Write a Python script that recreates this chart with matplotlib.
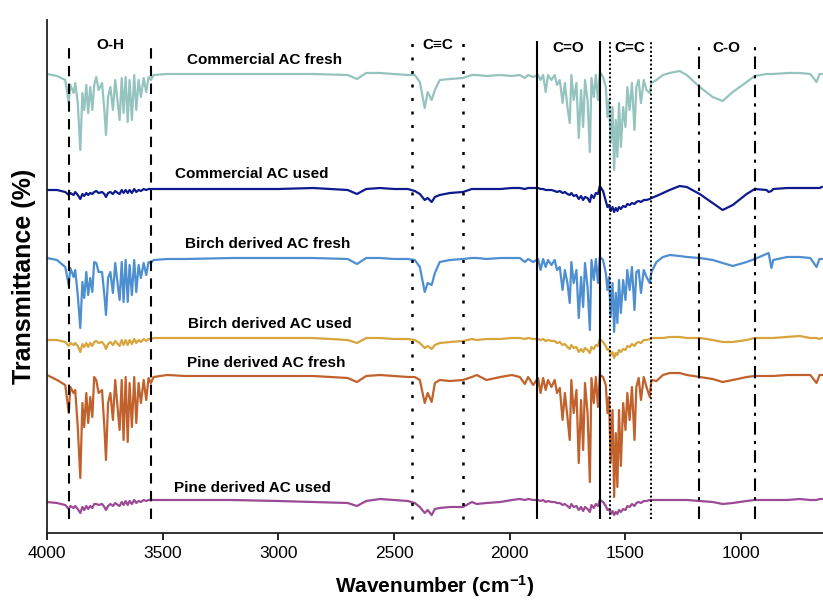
import numpy as np
import matplotlib
matplotlib.use("Agg")
import matplotlib.pyplot as plt

plt.rcParams['font.family'] = ['Liberation Sans', 'DejaVu Sans']
plt.rcParams['mathtext.fontset'] = 'custom'
plt.rcParams['mathtext.bf'] = 'Liberation Sans:bold'
plt.rcParams['mathtext.rm'] = 'Liberation Sans'

# shared wavenumber grid (cm-1), dense where the spectra are spiky
wavenumber = [
    4000, 3957, 3921, 3906, 3899, 3885, 3878, 3867, 3856, 3847,
    3839, 3830, 3822, 3813, 3804, 3796, 3787, 3777, 3762, 3752,
    3745, 3736, 3726, 3715, 3705, 3694, 3686, 3677, 3669, 3660,
    3651, 3643, 3633, 3623, 3614, 3604, 3594, 3582, 3571, 3561,
    3551, 3539, 3481,
    3400, 3200, 3000, 2850, 2700, 2660, 2620, 2560, 2500, 2440,
    2410, 2388, 2367, 2354, 2337, 2323, 2302, 2258, 2202, 2163, 2142, 2100, 2040, 1990,
    1956, 1934, 1920, 1898, 1877, 1866, 1855, 1844, 1834, 1819,
    1805, 1795, 1783, 1771, 1761, 1750, 1740, 1733, 1723, 1711,
    1701, 1691, 1682, 1674, 1663, 1653, 1646, 1636, 1627, 1618,
    1610, 1596, 1584, 1577, 1570, 1563, 1555, 1548, 1541, 1534,
    1527, 1519, 1509, 1499, 1491, 1481, 1471, 1460, 1452, 1442,
    1432, 1420, 1408, 1394, 1387, 1365, 1337, 1308,
    1265, 1234, 1178, 1122, 1079, 1035, 975, 940, 889, 880, 868, 860, 800, 746, 700, 673, 660, 650,
]

# drop in transmittance below each trace's own baseline (arbitrary units)
commercial_fresh = [
    0, 2, 6, 29, 11, 19, 9, 29, 76, 19,
    36, 11, 39, 13, 36, 11, 3, 16, 9, 36,
    61, 23, 13, 36, 6, 29, 46, 4, 39, 3,
    48, 6, 46, 1, 36, 6, 23, 4, 18, 3,
    6, 1, 0,
    0, 0, 0, 0, 1, 5, -1, -1, 0, 1,
    1, 8, 34, 18, 26, 16, 6, 5, 4, 1, 1, 2, 1, 2,
    1, 4, 1, 3, 1, 6, 1, 18, 1, 6,
    1, 11, 6, 29, 9, 33, 49, 1, 26, 9,
    64, 16, 53, 6, 26, 78, 4, 23, 1, 26,
    -2, 3, 13, 43, 26, 69, 33, 96, 46, 83,
    29, 73, 33, 53, 13, 36, 9, 56, 13, 6,
    29, 6, 16, 19, 9, 6, 1, -1,
    -3, 1, 13, 23, 27, 18, 8, 2, 0, 0, 0, 0, -1, -1, 0, 8, 0, 0,
]
commercial_used = [
    1, 1, 3, 6, 4, 6, 3, 6, 10, 5,
    7, 4, 6, 4, 5, 3, 2, 4, 3, 5,
    8, 4, 3, 5, 2, 4, 5, 1, 4, 1,
    4, 1, 4, 0, 3, 1, 2, 0, 1, 0,
    0, 0, 0,
    0, 0, 0, -1, 1, 5, 0, -1, 0, 0,
    2, 5, 11, 9, 13, 8, 6, 4, 3, 0, 0, 0, 0, -1,
    -1, 0, -1, -1, -1, 0, 0, 1, 1, 1,
    2, 3, 2, 4, 3, 5, 6, 4, 7, 6,
    10, 7, 11, 8, 9, 13, 6, 9, 4, 5,
    -3, 2, 12, 18, 16, 22, 18, 23, 19, 22,
    18, 20, 17, 18, 15, 16, 14, 15, 13, 12,
    13, 11, 11, 10, 9, 7, 4, 1,
    -3, -2, 5, 14, 21, 16, 5, 0, 1, 3, 2, 0, -1, -1, -1, -1, -1, -2,
]
birch_fresh = [
    -1, 1, 8, 26, 9, 18, 11, 36, 69, 23,
    39, 13, 36, 19, 33, 3, 4, 13, 13, 36,
    56, 19, 13, 34, 4, 26, 41, 3, 43, 1,
    43, 6, 36, 1, 33, 6, 19, 4, 16, 3,
    4, 1, 0,
    0, -1, -1, -1, 0, 5, -1, -1, 0, 0,
    1, 8, 33, 24, 26, 14, 3, 1, 0, -1, -1, 0, -1, -1,
    -1, 3, 0, 3, 0, 11, 0, 8, 1, 6,
    1, 11, 8, 31, 11, 24, 44, 3, 24, 11,
    59, 18, 48, 4, 28, 71, 1, 21, 0, 24,
    -2, 1, 14, 31, 18, 58, 24, 73, 34, 64,
    21, 54, 21, 41, 11, 31, 8, 51, 13, 11,
    34, 11, 18, 24, 13, 3, -2, -4,
    -3, -2, -1, 1, 4, 7, 3, 0, -5, -6, 9, 1, -2, -2, -1, 8, 0, 0,
]
birch_used = [
    0, 0, 2, 6, 3, 5, 3, 6, 12, 4,
    7, 3, 7, 3, 6, 2, 1, 3, 2, 5,
    9, 4, 2, 5, 1, 4, 6, 0, 5, 0,
    5, 0, 4, -1, 3, 0, 2, -1, 1, -1,
    -1, -2, -2,
    -2, -2, -2, -2, 0, 3, -2, -2, -1, -1,
    0, 3, 8, 6, 9, 5, 3, 2, 1, -1, 0, -1, -1, -2,
    -2, -1, -2, -1, -1, 0, -1, 1, 0, 1,
    1, 3, 2, 5, 4, 7, 9, 5, 8, 7,
    12, 9, 12, 8, 10, 13, 7, 9, 5, 6,
    -1, 2, 6, 10, 9, 15, 12, 18, 13, 15,
    10, 12, 9, 10, 6, 7, 4, 6, 3, 2,
    3, 0, 0, -1, -2, -2, -2, -3,
    -3, -2, -2, 0, 2, 2, 0, -2, -2, -2, -2, -2, -3, -4, -2, -2, -1, -2,
]
pine_fresh = [
    -1, 4, 9, 37, 11, 17, 14, 51, 102, 27,
    51, 17, 47, 21, 41, 1, 4, 17, 14, 51,
    84, 27, 17, 44, 4, 34, 54, 4, 64, 1,
    66, 7, 51, 1, 47, 7, 27, 4, 24, 2,
    7, 1, -1,
    0, 0, 0, 0, 2, 6, 0, -1, 0, 1,
    1, 4, 27, 17, 26, 7, 4, 5, 4, 1, -1, 4, 1, -1,
    1, 8, 1, 9, 2, 17, 2, 14, 4, 11,
    4, 17, 12, 44, 17, 41, 64, 4, 37, 14,
    87, 24, 74, 7, 37, 106, 2, 27, 1, 31,
    -1, 1, 9, 37, 21, 87, 34, 121, 57, 111,
    34, 90, 27, 54, 17, 44, 11, 64, 11, 2,
    24, 1, 11, 21, 4, 5, -1, -3,
    -3, -1, 1, 3, 6, 4, 1, 0, 0, 0, 0, 0, -1, -1, -1, 7, -1, -1,
]
pine_used = [
    1, 2, 4, 8, 5, 7, 5, 8, 12, 6,
    9, 5, 8, 5, 7, 3, 3, 4, 3, 6,
    9, 5, 3, 5, 2, 4, 5, 1, 4, 0,
    4, 0, 3, -1, 2, 0, 1, -1, 0, -1,
    -1, -1, -1,
    -1, -1, 0, 1, 2, 5, 0, -2, -1, 0,
    2, 6, 12, 9, 14, 8, 7, 6, 6, 1, 3, 2, 1, -1,
    -2, -1, -2, -1, -1, 0, -1, 1, 0, 1,
    1, 2, 2, 4, 3, 5, 7, 3, 6, 5,
    9, 6, 10, 6, 8, 11, 4, 7, 3, 5,
    -1, 1, 5, 9, 8, 13, 10, 14, 11, 13,
    9, 11, 8, 9, 5, 6, 3, 5, 2, 1,
    2, 0, 0, -1, -1, -1, -1, -1,
    -1, -1, 0, 1, 3, 2, 0, -1, -1, -1, -1, -1, -1, -2, -1, -1, -2, -2,
]

names = ["Commercial AC fresh", "Commercial AC used", "Birch derived AC fresh",
         "Birch derived AC used", "Pine derived AC fresh", "Pine derived AC used"]
series = [commercial_fresh, commercial_used, birch_fresh, birch_used, pine_fresh, pine_used]

# band regions (cm-1)
bands = ["O-H", "C\u2261C", "C=O", "C=C", "C-O"]
band_edges = [(3905, 3550), (2422, 2202), (1883, 1610), (1567, 1390), (1182, 940)]

# stacking and styling
offsets = [459, 344, 274, 193, 157, 32]
colors = ["#95c4bf", "#0d1b8e", "#4d8fd1", "#d8a43c", "#c1612c", "#9c4a95"]
label_pos = [(3058, 473), (3114, 359), (3045, 289), (3036, 209), (3050, 170), (3110, 45)]
band_styles = [(0, (5, 3.5)), (0, (1.2, 4.2)), "-", (0, (1, 1.2)), (0, (6, 3, 1.5, 3))]
band_lw = [1.5, 1.8, 1.5, 1.4, 1.5]
band_label_y = [488, 488, 485, 485, 485]

wn = np.array(wavenumber)
for s in series:
    assert len(s) == len(wn), len(s)

fig = plt.figure(figsize=(8.23, 6), dpi=100)
ax = fig.add_axes([47 / 823, 67 / 600, 776 / 823, 513 / 600])

for s, off, c, name, (lx, ly) in zip(series, offsets, colors, names, label_pos):
    ax.plot(wn, off - np.array(s), color=c, lw=1.6, solid_joinstyle='round')
    ax.text(lx, ly, name, ha='center', va='center', fontsize=11, fontweight='bold')

for (a, b), ls, lw, lab, ly in zip(band_edges, band_styles, band_lw, bands, band_label_y):
    ax.vlines([a, b], 14, 492, colors='black', linestyles=[ls], lw=lw)
    ax.text((a + b) / 2, ly, lab, ha='center', va='center', fontsize=11, fontweight='bold')

ax.set_xlim(4000, 645)
ax.set_ylim(0, 513)
ax.set_xticks([4000, 3500, 3000, 2500, 2000, 1500, 1000])
ax.set_yticks([])
ax.tick_params(axis='x', direction='out', length=5, width=1.2, labelsize=12.5, pad=4)
for side in ['top', 'right']:
    ax.spines[side].set_visible(False)
for side in ['left', 'bottom']:
    ax.spines[side].set_linewidth(1.3)
    ax.spines[side].set_color('#222222')

ax.set_xlabel(r"Wavenumber (cm$\mathbf{^{-1}}$)", fontsize=15, fontweight='bold', labelpad=9)
ax.set_ylabel("Transmittance (%)", fontsize=18, fontweight='bold', labelpad=8)

fig.savefig("out.png", dpi=100)
